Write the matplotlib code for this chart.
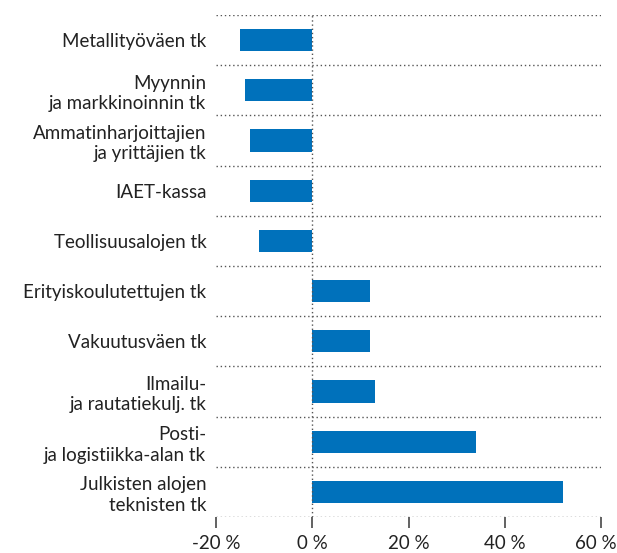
import matplotlib.pyplot as plt
from matplotlib.ticker import FuncFormatter
from matplotlib.transforms import ScaledTranslation

categories = [
    "Metallityöväen tk",
    "Myynnin\nja markkinoinnin tk",
    "Ammatinharjoittajien\nja yrittäjien tk",
    "IAET-kassa",
    "Teollisuusalojen tk",
    "Erityiskoulutettujen tk",
    "Vakuutusväen tk",
    "Ilmailu-\nja rautatiekulj. tk",
    "Posti-\nja logistiikka-alan tk",
    "Julkisten alojen\nteknisten tk",
]
values = [-15, -14, -13, -13, -11, 12, 12, 13, 34, 52]
x_ticks = [-20, 0, 20, 40, 60]

bar_color = "#0071bb"
dot_color = "#555555"
text_color = "#222222"

plt.rcParams['font.family'] = ['Lato', 'DejaVu Sans']

fig = plt.figure(figsize=(6.17, 5.53), dpi=100)
ax = fig.add_axes([0.3501, 0.0651, 0.6240, 0.9078])

ypos = list(range(len(categories)))
ax.barh(ypos, values, height=0.44, color=bar_color, zorder=3)

# dotted separators between rows
for k in range(len(categories) + 1):
    ax.axhline(k - 0.5, color=dot_color, linestyle=(0, (1, 2)), linewidth=1.0, zorder=1)
ax.axvline(0, color=dot_color, linestyle=(0, (1, 2)), linewidth=1.0, zorder=4)

ax.set_xlim(-20, 60)
ax.set_ylim(len(categories) - 0.5, -0.5)

ax.set_xticks(x_ticks)
ax.xaxis.set_major_formatter(FuncFormatter(lambda v, p: f"{int(v)} %"))
ax.tick_params(axis='x', length=8, width=1.3, color="#555555", pad=5,
               labelsize=13.5, labelcolor=text_color)

ax.set_yticks(ypos)
ax.set_yticklabels(categories, fontsize=13.5, color=text_color, linespacing=1.25)
ax.tick_params(axis='y', length=0, pad=7)

for s in ax.spines.values():
    s.set_visible(False)

# nudge the last tick label so it stays inside the figure
last = ax.get_xticklabels()[-1]
last.set_transform(last.get_transform() + ScaledTranslation(-4 / 72, 0, fig.dpi_scale_trans))

fig.savefig("out.png", dpi=100)
